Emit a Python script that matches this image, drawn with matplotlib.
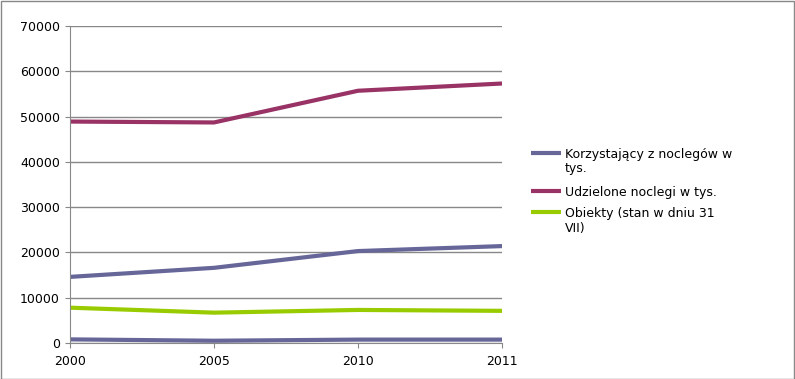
import matplotlib
matplotlib.use("Agg")
import matplotlib.pyplot as plt
from matplotlib.patches import Rectangle
from matplotlib.lines import Line2D

years = ["2000", "2005", "2010", "2011"]
korzystajacy = [14600, 16600, 20300, 21400]
udzielone = [48900, 48700, 55700, 57300]
obiekty = [7800, 6700, 7300, 7100]
inne = [800, 500, 750, 750]

labels = ["Korzystający z noclegów w\ntys.", "Udzielone noclegi w tys.", "Obiekty (stan w dniu 31\nVII)"]
colors = ["#666699", "#993366", "#99cc00"]

plt.rcParams['font.family'] = ['DejaVu Sans']
W, H = 795, 379
fig = plt.figure(figsize=(W/100, H/100), dpi=100)
ax = fig.add_axes([70/W, 1-343/H, 432/W, 317/H])

x = list(range(len(years)))
lw = 3.0
series = [korzystajacy, udzielone, obiekty]
for vals, c in zip(series, colors):
    ax.plot(x, vals, color=c, lw=lw, solid_capstyle='butt')
ax.plot(x, inne, color=colors[0], lw=lw, solid_capstyle='butt')

ax.set_xlim(0, len(years)-1)
ax.set_ylim(0, 70000)
ax.set_yticks(range(0, 70001, 10000))
ax.set_xticks(x)
ax.set_xticklabels(years)
ax.grid(axis='y', color='#888888', lw=1)
ax.set_axisbelow(True)
for s in ['top', 'right']:
    ax.spines[s].set_visible(False)
for s in ['left', 'bottom']:
    ax.spines[s].set_color('#888888')
ax.tick_params(axis='both', colors='#888888', labelcolor='black', labelsize=9, length=3.6, direction='out')
ax.tick_params(axis='y', pad=3.6)
ax.tick_params(axis='x', pad=5)

# manual legend: handle aligned with first text line
handle_y = [153.3, 190.7, 212]
baselines = [[158.3, 172], [196], [217.3, 231.7]]
for lab, c, hy, bl in zip(labels, colors, handle_y, baselines):
    fig.add_artist(Line2D([531/W, 561/W], [1-hy/H, 1-hy/H], color=c, lw=lw,
                          transform=fig.transFigure, solid_capstyle='butt'))
    for line, b in zip(lab.split("\n"), bl):
        fig.text(565/W, 1-b/H, line, fontsize=9, va='baseline', ha='left')

fig.patches.append(Rectangle((0.5/W, 0.5/H), 1-1.5/W, 1-1.5/H, transform=fig.transFigure,
                             fill=False, edgecolor='#888888', lw=1))
fig.savefig("out.png", dpi=100)
